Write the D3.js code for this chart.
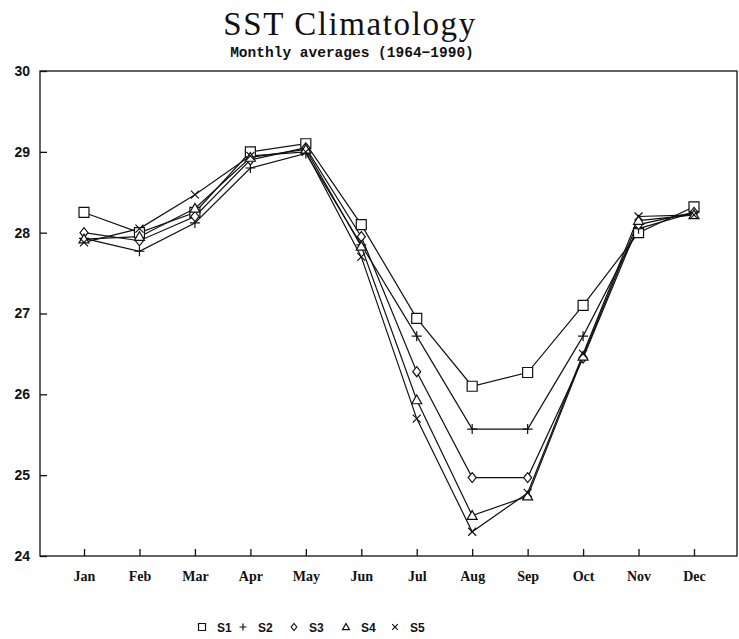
<!DOCTYPE html>
<html>
<head>
<meta charset="utf-8">
<script src="https://cdn.jsdelivr.net/npm/d3@7"></script>
<style>
  body { margin: 0; background: #fff; }
</style>
</head>
<body>
<div id="vis"></div>
<script>
// data
const months = ["Jan", "Feb", "Mar", "Apr", "May", "Jun", "Jul", "Aug", "Sep", "Oct", "Nov", "Dec"];
const seriesNames = ["S1", "S2", "S3", "S4", "S5"];
const s1 = [28.25, 28.0, 28.25, 29.0, 29.1, 28.1, 26.94, 26.1, 26.27, 27.1, 28.0, 28.32];
const s2 = [27.93, 27.77, 28.12, 28.8, 28.98, 27.85, 26.72, 25.57, 25.57, 26.72, 28.05, 28.25];
const s3 = [28.0, 27.9, 28.2, 28.9, 29.05, 27.95, 26.28, 24.97, 24.97, 26.45, 28.1, 28.25];
const s4 = [27.92, 27.95, 28.3, 28.93, 29.03, 27.83, 25.93, 24.5, 24.74, 26.47, 28.15, 28.22];
const s5 = [27.88, 28.05, 28.47, 28.95, 29.0, 27.7, 25.7, 24.3, 24.78, 26.5, 28.2, 28.22];
const yTicks = [24, 25, 26, 27, 28, 29, 30];

const allSeries = [s1, s2, s3, s4, s5];

const width = 739, height = 639;
const margin = ({top: 71, right: 2, bottom: 83, left: 40});

const svg = d3.create("svg")
    .attr("width", width)
    .attr("height", height);

// scales
const xScale = d3.scalePoint()
    .domain(months)
    .range([84, 694]);

const yScale = d3.scaleLinear()
    .domain([24, 30])
    .range([height - margin.bottom, margin.top]);

// titles
svg.append("text")
    .attr("x", 350)
    .attr("y", 35)
    .attr("text-anchor", "middle")
    .attr("font-family", "Liberation Serif, serif")
    .attr("font-size", 33)
    .attr("letter-spacing", 1.6)
    .attr("fill", "#111")
    .text("SST Climatology");

svg.append("text")
    .attr("x", 352)
    .attr("y", 57)
    .attr("text-anchor", "middle")
    .attr("font-family", "Liberation Mono, monospace")
    .attr("font-size", 14.5)
    .attr("font-weight", 700)
    .attr("fill", "#111")
    .text("Monthly averages (1964\u22121990)");

// frame
svg.append("rect")
    .attr("x", margin.left)
    .attr("y", margin.top)
    .attr("width", width - margin.right - margin.left)
    .attr("height", height - margin.bottom - margin.top)
    .attr("fill", "none")
    .attr("stroke", "#111")
    .attr("stroke-width", 1.3);

// y axis
const yAxis = svg.append("g")
    .attr("transform", `translate(${margin.left}, 0)`)
    .call(d3.axisRight(yScale).tickValues(yTicks).tickSize(7).tickSizeOuter(0).tickFormat(d3.format("d")))
    .call(g => g.select(".domain").remove());
yAxis.selectAll("line").attr("stroke", "#111").attr("stroke-width", 1.3);
yAxis.selectAll("text")
    .attr("x", -10)
    .attr("text-anchor", "end")
    .attr("font-family", "Liberation Sans, Arial, sans-serif")
    .attr("font-weight", 700)
    .attr("font-size", 14)
    .attr("fill", "#111");

// x axis
const xAxis = svg.append("g")
    .attr("transform", `translate(0, ${height - margin.bottom})`)
    .call(d3.axisTop(xScale).tickSize(7).tickSizeOuter(0))
    .call(g => g.select(".domain").remove());
xAxis.selectAll("line").attr("stroke", "#111").attr("stroke-width", 1.3);
xAxis.selectAll("text")
    .attr("y", 25)
    .attr("dy", "0")
    .attr("font-family", "Liberation Serif, serif")
    .attr("font-weight", 700)
    .attr("font-size", 14)
    .attr("fill", "#111");

// lines
const line = d3.line()
    .x((d, i) => xScale(months[i]))
    .y(d => yScale(d));

svg.append("g")
    .selectAll("path")
    .data(allSeries)
    .join("path")
    .attr("d", line)
    .attr("fill", "none")
    .attr("stroke", "#111")
    .attr("stroke-width", 1.2);

// markers
const markerPath = function (k, s) {
    const h = s / 2;
    if (k === 0) return `M${-h},${-h}h${s}v${s}h${-s}Z`;
    if (k === 1) return `M${-h},0h${s}M0,${-h}v${s}`;
    if (k === 2) return `M0,${-h}L${h * 0.8},0L0,${h}L${-h * 0.8},0Z`;
    if (k === 3) return `M0,${-h}L${h},${h * 0.75}L${-h},${h * 0.75}Z`;
    return `M${-h * 0.8},${-h * 0.8}L${h * 0.8},${h * 0.8}M${-h * 0.8},${h * 0.8}L${h * 0.8},${-h * 0.8}`;
};

allSeries.forEach((vals, k) => {
    svg.append("g")
        .selectAll("path")
        .data(vals)
        .join("path")
        .attr("transform", (d, i) => `translate(${xScale(months[i])},${yScale(d)})`)
        .attr("d", markerPath(k, 10))
        .attr("fill", k === 0 || k === 2 || k === 3 ? "#fff" : "none")
        .attr("stroke", "#111")
        .attr("stroke-width", 1.2);
});

// legend
const legendX = [202, 243, 294, 346, 395];
const legend = svg.append("g");
seriesNames.forEach((name, k) => {
    legend.append("path")
        .attr("transform", `translate(${legendX[k]}, 627)`)
        .attr("d", markerPath(k, 7))
        .attr("fill", "none")
        .attr("stroke", "#111")
        .attr("stroke-width", 1.2);
    legend.append("text")
        .attr("x", legendX[k] + 15)
        .attr("y", 632)
        .attr("font-family", "Liberation Sans, Arial, sans-serif")
        .attr("font-weight", 700)
        .attr("font-size", 12)
        .attr("fill", "#111")
        .text(name);
});

document.getElementById("vis").appendChild(svg.node());
</script>
</body>
</html>
